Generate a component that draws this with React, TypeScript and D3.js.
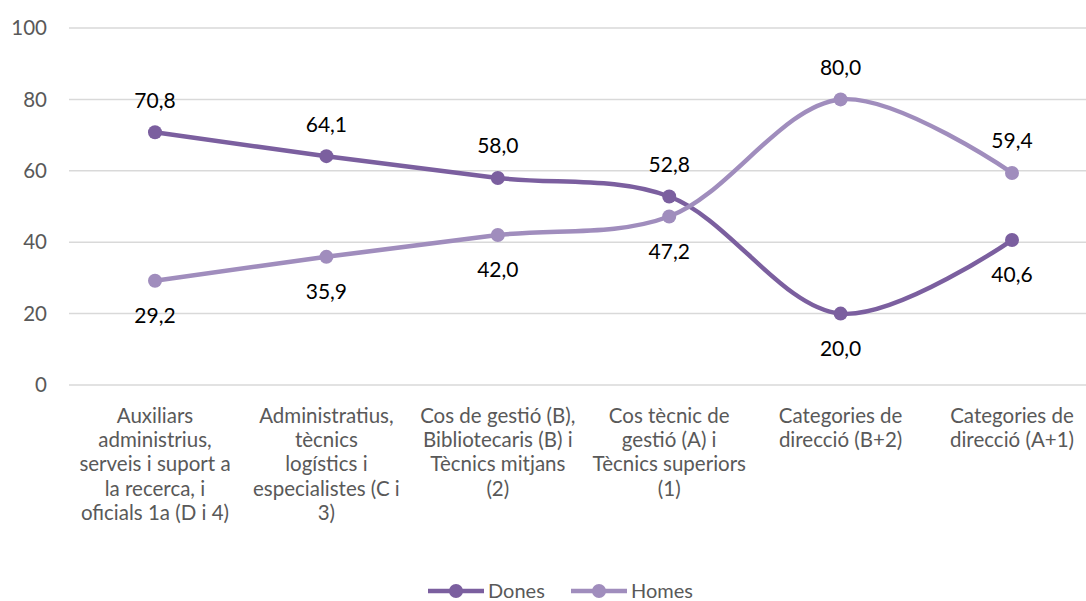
import React from "react";
import * as d3 from "d3";

const categories: string[][] = [
  ["Auxiliars", "administrius,", "serveis i suport a", "la recerca, i", "oficials 1a (D i 4)"],
  ["Administratius,", "tècnics", "logístics i", "especialistes (C i", "3)"],
  ["Cos de gestió (B),", "Bibliotecaris (B) i", "Tècnics mitjans", "(2)"],
  ["Cos tècnic de", "gestió (A) i", "Tècnics superiors", "(1)"],
  ["Categories de", "direcció (B+2)"],
  ["Categories de", "direcció (A+1)"],
];
const dones = [70.8, 64.1, 58.0, 52.8, 20.0, 40.6];
const homes = [29.2, 35.9, 42.0, 47.2, 80.0, 59.4];
// label placement: true = above
const donesAbove = [true, true, true, true, false, false];
const homesAbove = [false, false, false, false, true, true];
const yTicks = [0, 20, 40, 60, 80, 100];

const W = 1086;
const H = 601;
const FONT = "Lato, 'Open Sans', sans-serif";
const C_DONES = "#7b5f9f";
const C_HOMES = "#a08dbd";

export default function App() {
  const x = d3
    .scalePoint<number>()
    .domain(d3.range(categories.length))
    .range([155, 1012]);
  const y = d3.scaleLinear().domain([0, 100]).range([385, 28]);
  const line = d3
    .line<number>()
    .x((_, i) => x(i)!)
    .y((d) => y(d))
    .curve(d3.curveCatmullRom.alpha(0.5));

  const fmt = (v: number) => v.toFixed(1).replace(".", ",");

  const series = [
    { name: "Dones", data: dones, color: C_DONES, above: donesAbove },
    { name: "Homes", data: homes, color: C_HOMES, above: homesAbove },
  ];

  return (
    <svg width={W} height={H} style={{ position: "absolute", left: 0, top: 0, background: "#fff" }}>
      {yTicks.map((t) => (
        <g key={t}>
          <line x1={69} x2={1086} y1={y(t)} y2={y(t)} stroke="#d9d9d9" strokeWidth={1.5} />
          <text
            x={47}
            y={y(t)}
            dy="0.35em"
            textAnchor="end"
            fontFamily={FONT}
            fontSize={20.5}
            fill="#595959"
          >
            {t}
          </text>
        </g>
      ))}
      {categories.map((lines, i) => (
        <text
          key={i}
          textAnchor="middle"
          fontFamily={FONT}
          fontSize={20.5}
          fill="#595959"
        >
          {lines.map((l, j) => (
            <tspan key={j} x={x(i)} y={423 + j * 24.2}>
              {l}
            </tspan>
          ))}
        </text>
      ))}
      {series.map((s) => (
        <g key={s.name}>
          <path d={line(s.data)!} fill="none" stroke={s.color} strokeWidth={4.5} strokeLinecap="round" />
          {s.data.map((v, i) => (
            <circle key={i} cx={x(i)} cy={y(v)} r={7} fill={s.color} />
          ))}
          {s.data.map((v, i) => (
            <text
              key={"l" + i}
              x={x(i)}
              y={y(v) + (s.above[i] ? -32 : 35)}
              dy="0.35em"
              textAnchor="middle"
              fontFamily={FONT}
              fontSize={21}
              fill="#000"
            >
              {fmt(v)}
            </text>
          ))}
        </g>
      ))}
      {series.map((s, k) => {
        const x0 = 428 + k * 143;
        const yy = 591;
        return (
          <g key={"leg" + s.name}>
            <line x1={x0} x2={x0 + 56} y1={yy} y2={yy} stroke={s.color} strokeWidth={4.5} />
            <circle cx={x0 + 28} cy={yy} r={7} fill={s.color} />
            <text x={x0 + 60} y={yy} dy="0.35em" fontFamily={FONT} fontSize={20} fill="#595959">
              {s.name}
            </text>
          </g>
        );
      })}
    </svg>
  );
}
